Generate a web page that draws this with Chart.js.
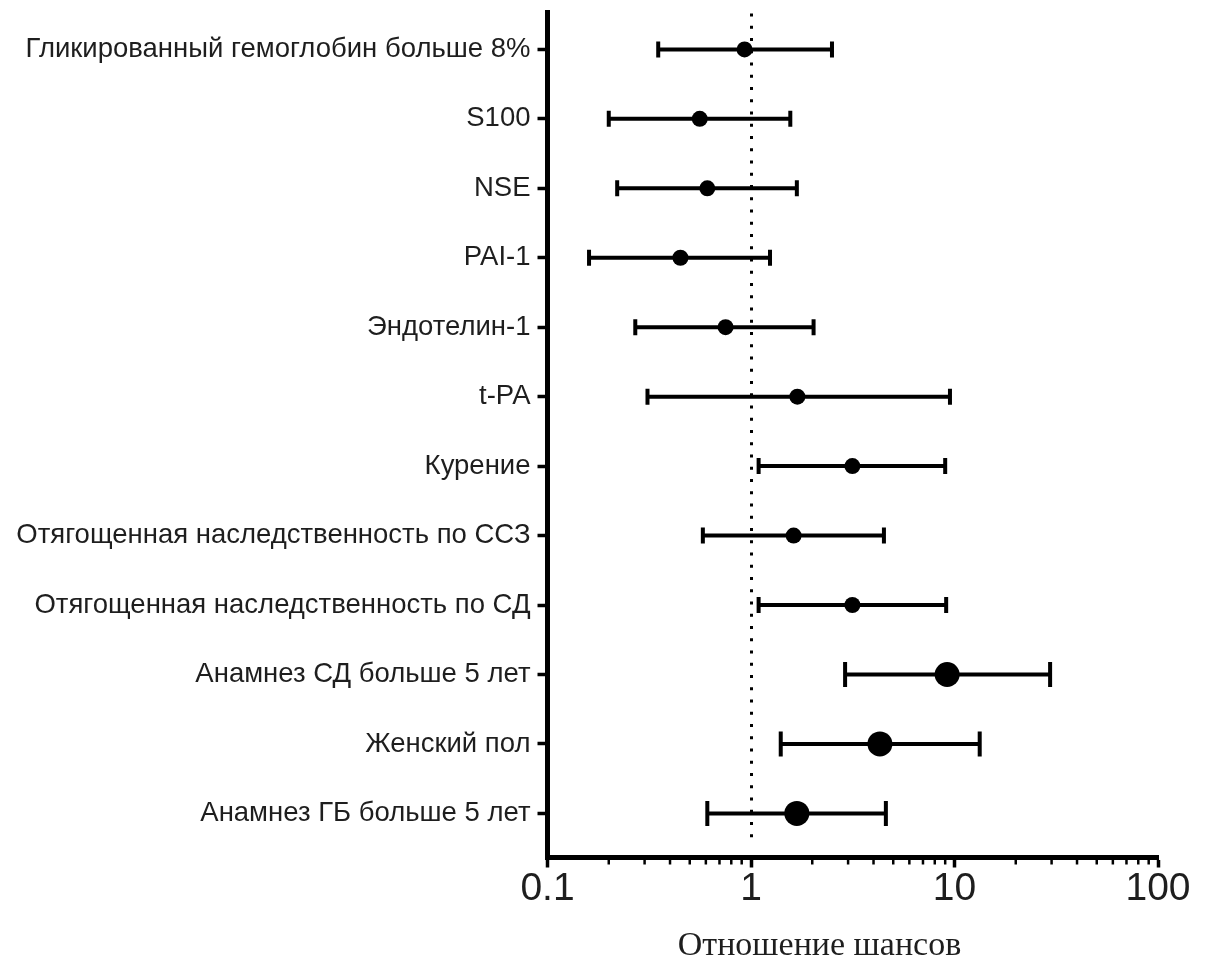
<!DOCTYPE html>
<html>
<head>
<meta charset="utf-8">
<script src="https://cdn.jsdelivr.net/npm/chart.js@4"></script>
<style>
  html, body { margin: 0; padding: 0; background: #fff; }
  #wrap { width: 1205px; height: 960px; }
</style>
</head>
<body>
<div id="wrap"><canvas id="forest"></canvas></div>
<script>
// factors, top to bottom
const labels = [
  "Гликированный гемоглобин больше 8%",
  "S100",
  "NSE",
  "PAI-1",
  "Эндотелин-1",
  "t-PA",
  "Курение",
  "Отягощенная наследственность по ССЗ",
  "Отягощенная наследственность по СД",
  "Анамнез СД больше 5 лет",
  "Женский пол",
  "Анамнез ГБ больше 5 лет"
];
const oddsRatio = [0.93, 0.56, 0.61, 0.45, 0.75, 1.69, 3.15, 1.62, 3.15, 9.2, 4.3, 1.68];
const ciLow     = [0.35, 0.20, 0.22, 0.16, 0.27, 0.31, 1.09, 0.58, 1.09, 2.9, 1.4, 0.61];
const ciHigh    = [2.5, 1.56, 1.68, 1.24, 2.03, 9.5, 9.0, 4.5, 9.1, 29.5, 13.3, 4.6];
const xTicks = [0.1, 1, 10, 100];
const xTitle = "Отношение шансов";

const sans = "'Liberation Sans', Arial, sans-serif";
// last three factors are drawn with bigger markers and caps
const markerSize = labels.map((_, i) => (i >= 9 ? 12.5 : 8));

// whiskers, minor log ticks, the dotted line at OR = 1 and the axis caption
const forestPlugin = {
  id: "forest",
  beforeDatasetsDraw(chart) {
    const { ctx, chartArea, scales: { x, y } } = chart;
    const x1 = Math.round(x.getPixelForValue(1)) + 0.5;
    ctx.save();
    ctx.strokeStyle = "#000";
    ctx.lineWidth = 3;
    ctx.setLineDash([3, 9.25]);
    ctx.beginPath();
    ctx.moveTo(x1, chartArea.top + 1);
    ctx.lineTo(x1, chartArea.bottom - 20);
    ctx.stroke();
    ctx.setLineDash([]);

    ctx.lineWidth = 4;
    ctx.lineCap = "butt";
    labels.forEach((_, i) => {
      const py = y.getPixelForValue(i);
      const lo = x.getPixelForValue(ciLow[i]);
      const hi = x.getPixelForValue(ciHigh[i]);
      const cap = markerSize[i];
      ctx.beginPath();
      ctx.moveTo(lo, py);
      ctx.lineTo(hi, py);
      ctx.moveTo(lo, py - cap);
      ctx.lineTo(lo, py + cap);
      ctx.moveTo(hi, py - cap);
      ctx.lineTo(hi, py + cap);
      ctx.stroke();
    });
    ctx.restore();
  },
  afterDraw(chart) {
    const { ctx, scales: { x } } = chart;
    ctx.save();
    ctx.strokeStyle = "#000";
    ctx.lineWidth = 2.5;
    for (let d = 0; d < xTicks.length - 1; d++) {
      for (let k = 2; k <= 9; k++) {
        const px = x.getPixelForValue(xTicks[d] * k);
        ctx.beginPath();
        ctx.moveTo(px, x.top);
        ctx.lineTo(px, x.top + 7);
        ctx.stroke();
      }
    }
    ctx.fillStyle = "#1e1e1e";
    ctx.font = "34px 'Liberation Serif', 'Times New Roman', serif";
    ctx.textAlign = "center";
    ctx.textBaseline = "alphabetic";
    ctx.fillText(xTitle, x.left + 272, 955);
    ctx.restore();
  }
};

new Chart(document.getElementById("forest"), {
  type: "scatter",
  data: {
    datasets: [{
      data: oddsRatio.map((v, i) => ({ x: v, y: i })),
      backgroundColor: "#000",
      borderColor: "#000",
      borderWidth: 0,
      pointRadius: markerSize,
      pointHoverRadius: markerSize
    }]
  },
  options: {
    responsive: true,
    maintainAspectRatio: false,
    animation: false,
    layout: { padding: { top: 10, left: 0, right: 47, bottom: 0 } },
    plugins: {
      legend: { display: false },
      tooltip: { enabled: false }
    },
    scales: {
      x: {
        type: "logarithmic",
        min: 0.1,
        max: 100,
        afterBuildTicks: s => { s.ticks = xTicks.map(v => ({ value: v })); },
        afterFit: s => { s.height = 102.5; s.paddingLeft = 0; s.paddingRight = 0; },
        border: { display: true, color: "#000", width: 5 },
        grid: { drawOnChartArea: false, drawTicks: true, tickLength: 10, tickWidth: 3.5, tickColor: "#000" },
        ticks: {
          autoSkip: false,
          maxRotation: 0,
          padding: -2,
          color: "#1e1e1e",
          font: { family: sans, size: 39 },
          callback: v => String(v)
        }
      },
      y: {
        type: "linear",
        reverse: true,
        min: -0.531,
        max: 11.635,
        afterBuildTicks: s => { s.ticks = labels.map((_, i) => ({ value: i })); },
        afterFit: s => { s.width = 547.5; s.paddingTop = 0; s.paddingBottom = 0; },
        border: { display: true, color: "#000", width: 5 },
        grid: { drawOnChartArea: false, drawTicks: true, tickLength: 10, tickWidth: 3.5, tickColor: "#000" },
        ticks: {
          autoSkip: false,
          padding: 7,
          color: "#1e1e1e",
          font: { family: sans, size: 27.5 },
          callback: v => labels[v]
        }
      }
    }
  },
  plugins: [forestPlugin]
});
</script>
</body>
</html>
